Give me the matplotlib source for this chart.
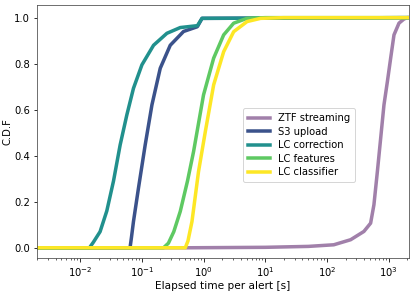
import numpy as np
import matplotlib
matplotlib.use('Agg')
import matplotlib.pyplot as plt

# elapsed time per alert [s] and cumulative fraction
ztf_t = [0.002, 0.55, 10, 50, 129, 242, 397, 510, 577, 656, 742, 839, 953,
         1077, 1219, 1469, 1770, 2008, 2200]
ztf_cdf = [0.0, 0.0, 0.002, 0.006, 0.013, 0.035, 0.071, 0.107, 0.187, 0.331,
           0.476, 0.621, 0.722, 0.824, 0.925, 0.976, 0.994, 1.0, 1.0]

s3_t = [0.002, 0.0645, 0.068, 0.0733, 0.0883, 0.1135, 0.146, 0.199, 0.289,
        0.475, 0.783, 0.80, 0.946, 2200]
s3_cdf = [0.0, 0.0, 0.045, 0.114, 0.259, 0.447, 0.621, 0.78, 0.88,
          0.94, 0.96, 0.962, 0.997, 1.0]

corr_t = [0.002, 0.0142, 0.0165, 0.0211, 0.0271, 0.0348, 0.0446, 0.0572,
          0.0733, 0.1005, 0.155, 0.255, 0.42, 0.783, 0.80, 0.946, 2200]
corr_cdf = [0.0, 0.0, 0.025, 0.07, 0.16, 0.29, 0.447, 0.577,
            0.693, 0.795, 0.88, 0.932, 0.957, 0.965, 0.966, 0.997, 1.0]

feat_t = [0.002, 0.225, 0.27, 0.33, 0.42, 0.55, 0.69, 1.0, 1.46, 2.12, 3.08,
          5.08, 10, 2200]
feat_cdf = [0.0, 0.0, 0.02, 0.07, 0.158, 0.29, 0.418, 0.664, 0.824, 0.925,
            0.976, 0.997, 1.0, 1.0]

clf_t = [0.002, 0.507, 0.56, 0.65, 0.83, 1.07, 1.46, 2.12, 3.08, 5.08,
         8.4, 20, 2200]
clf_cdf = [0.0, 0.0, 0.03, 0.114, 0.331, 0.505, 0.708, 0.852, 0.939, 0.983,
           0.997, 1.0, 1.0]

x_major = [1e-2, 1e-1, 1e0, 1e1, 1e2, 1e3]

series = [
    ('ZTF streaming', ztf_t, ztf_cdf, '#a180aa'),
    ('S3 upload', s3_t, s3_cdf, '#3b528b'),
    ('LC correction', corr_t, corr_cdf, '#21908d'),
    ('LC features', feat_t, feat_cdf, '#5ec962'),
    ('LC classifier', clf_t, clf_cdf, '#fde725'),
]

fig = plt.figure(figsize=(415 / 72, 294 / 72), dpi=72)
ax = fig.add_axes([0.089, 0.122, 0.897, 0.861])

for name, t, c, col in series:
    ax.plot(t, c, color=col, lw=3.5, label=name, solid_joinstyle='round')

ax.set_xscale('log')
ax.set_xticks(x_major)
ax.set_xlim(0.002, 2150)
ax.set_ylim(-0.045, 1.055)
ax.set_xlabel('Elapsed time per alert [s]', fontsize=10.5, labelpad=2)
ax.set_ylabel('C.D.F', fontsize=10, labelpad=2)
ax.tick_params(labelsize=10)
for s in ax.spines.values():
    s.set_color('0.3')
ax.legend(loc='center', bbox_to_anchor=(0.703, 0.445), fontsize=10,
          handlelength=2.2, borderpad=0.5, labelspacing=0.35)

fig.savefig('out.png', dpi=72)
